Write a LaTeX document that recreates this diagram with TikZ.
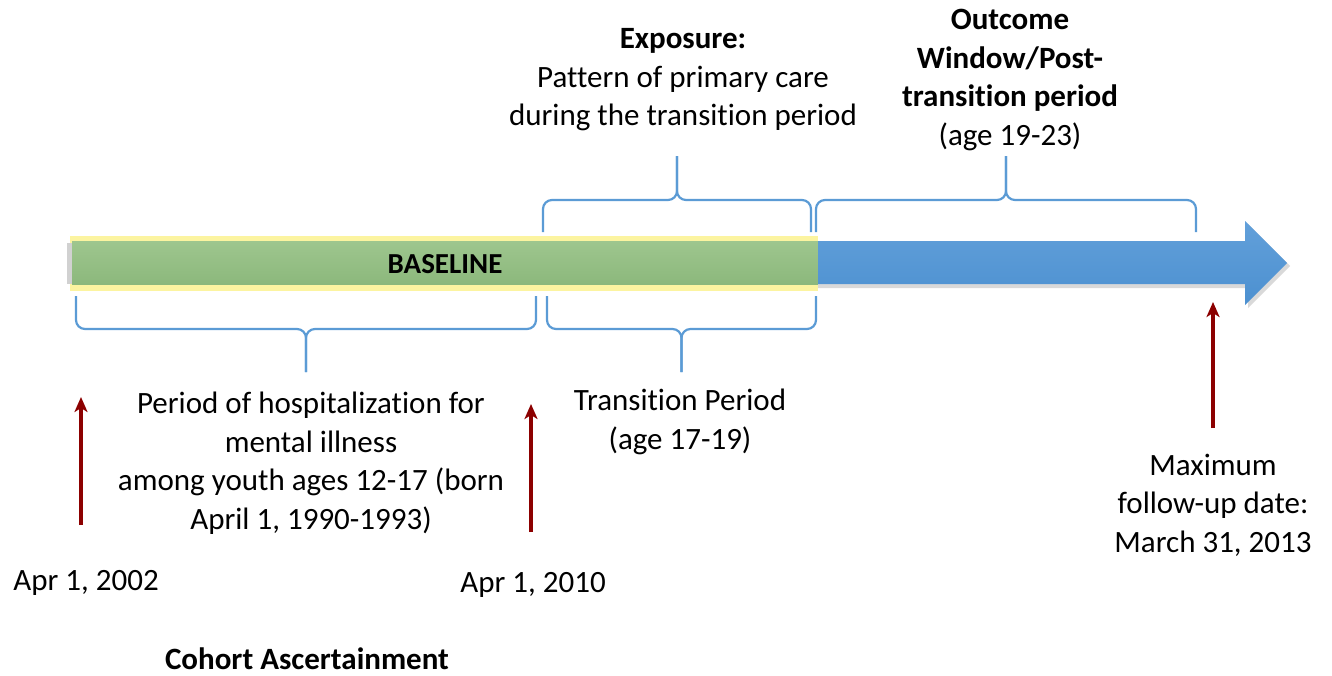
\documentclass[tikz,border=0pt]{standalone}
\usepackage{fontspec}
\setmainfont{Carlito}[Ligatures=NoCommon]
\usetikzlibrary{positioning,arrows.meta}

\definecolor{barGreenT}{RGB}{158,198,142}
\definecolor{barGreenB}{RGB}{140,184,124}
\definecolor{glowYellow}{RGB}{252,244,160}
\definecolor{arrBlueT}{RGB}{98,160,218}
\definecolor{arrBlueB}{RGB}{76,144,208}
\definecolor{braceBlue}{RGB}{91,155,213}
\definecolor{tickRed}{RGB}{140,0,0}

\tikzset{
  txt/.style={align=center, inner sep=0pt, font=\fontsize{31}{38.5}\selectfont},
  txtb/.style={txt, font=\fontsize{31}{38.5}\selectfont\bfseries},
  bracestyle/.style={draw=braceBlue, line width=2.2pt, rounded corners=9pt},
  redarrow/.style={draw=tickRed, line width=3.2pt, -{Stealth[length=15pt,width=13pt,inset=4pt]}}
}

\begin{document}
\begin{tikzpicture}[x=1pt,y=-1pt]
\useasboundingbox (0,0) rectangle (1332,675);

% brace: x left, x right, y of ends, y of line, y of tip
\newcommand\BR[5]{%
\draw[bracestyle] (#1,#3) -- (#1,#4) -- ({(#1+#2)/2},#4) -- ({(#1+#2)/2},#5);
\draw[bracestyle] (#2,#3) -- (#2,#4) -- ({(#1+#2)/2},#4) -- ({(#1+#2)/2},#5);
}

%% timeline bar
\fill[glowYellow] (70,236) rectangle (818,291);
\fill[black!18] (67,243) rectangle (72,284);
\shade[top color=barGreenT, bottom color=barGreenB] (72,241) rectangle (818,284);
\fill[black!15] (818,244) -- (1248,244) -- (1248,224) -- (1290,266) -- (1248,308) -- (1248,288) -- (818,288) -- cycle;
\shade[top color=arrBlueT, bottom color=arrBlueB] (818,241) -- (1245,241) -- (1245,221) -- (1287,263) -- (1245,305) -- (1245,284) -- (818,284) -- cycle;
\node[txtb, font=\fontsize{29}{32}\selectfont\bfseries] (base) at (445,264) {BASELINE};

%% braces
\BR{76}{536}{296}{329}{372}
\BR{547}{816}{296}{329}{372}
\BR{543}{811}{232}{200}{156}
\BR{816}{1196}{232}{200}{156}

%% texts
\node[txt] (hosp) at (311,463) {Period of hospitalization for\\mental illness\\among youth ages 12-17 (born\\April 1, 1990-1993)};
\node[txt] (trans) at (680,422) {Transition Period\\(age 17-19)};
\node[txt] (expo) at (683,80) {\textbf{Exposure:}\\Pattern of primary care\\during the transition period};
\node[txt] (outc) at (1010,80) {\textbf{Outcome}\\\textbf{Window/Post-}\\\textbf{transition period}\\(age 19-23)};
\node[txt] (maxd) at (1213,505) {Maximum\\follow-up date:\\March 31, 2013};
\node[txt] (d2002) at (86,583) {Apr 1, 2002};
\node[txt] (d2010) at (533,585) {Apr 1, 2010};
\node[txtb] (cohort) at (307,659) {Cohort Ascertainment};

%% date arrows
\coordinate (b1) at (81,525);
\coordinate (t1) at (81,397);
\coordinate (b2) at (531,532);
\coordinate (t2) at (531,404);
\coordinate (b3) at (1213,428);
\coordinate (t3) at (1213,302);
\draw[redarrow] (b1) -- (t1);
\draw[redarrow] (b2) -- (t2);
\draw[redarrow] (b3) -- (t3);

\end{tikzpicture}
\end{document}
